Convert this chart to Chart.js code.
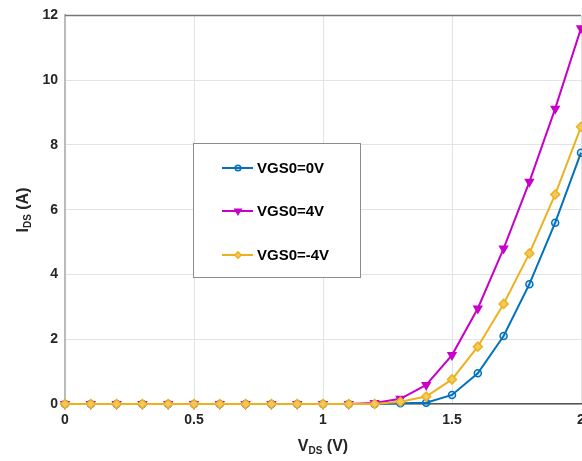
<!DOCTYPE html>
<html><head><meta charset="utf-8">
<script src="https://cdn.jsdelivr.net/npm/chart.js@4/dist/chart.umd.min.js"></script>
<style>html,body{margin:0;padding:0;overflow:hidden;background:#fff;width:582px;height:461px}#wrap{width:600px;height:461px}</style>
</head><body><div id="wrap"><canvas id="c" width="600" height="461"></canvas></div>
<script>
const vds = [0,0.1,0.2,0.3,0.4,0.5,0.6,0.7,0.8,0.9,1.0,1.1,1.2,1.3,1.4,1.5,1.6,1.7,1.8,1.9,2.0];
const ids_vgs0 = [0,0,0,0,0,0,0,0,0,0,0,0,0,0.02,0.04,0.28,0.95,2.1,3.7,5.6,7.76];
const ids_vgs4 = [0,0,0,0,0,0,0,0,0,0,0,0,0.03,0.16,0.59,1.51,2.95,4.8,6.86,9.12,11.6];
const ids_vgsm4 = [0,0,0,0,0,0,0,0,0,0,0,0,0,0.07,0.23,0.76,1.77,3.09,4.65,6.47,8.56];
const seriesNames = ['VGS0=0V','VGS0=4V','VGS0=-4V'];
const xTicks = [0,0.5,1,1.5,2];
const yTicks = [0,2,4,6,8,10,12];

const toPts = ys => vds.map((x,i)=>({x:x,y:ys[i]}));
const C_BLUE='#0072BD', C_MAG='#C800C8', C_ORG='#EDB120';

const boxPlugin = {
  id:'boxPlugin',
  beforeDatasetsDraw(chart){
    const {ctx, chartArea:a} = chart;
    ctx.save();
    ctx.lineWidth=1.5;
    ctx.strokeStyle='#777';
    ctx.beginPath();ctx.moveTo(a.left,a.top);ctx.lineTo(a.right,a.top);ctx.stroke();
    ctx.restore();
  },
  afterDraw(chart){
    const {ctx} = chart;
    ctx.save();
    ctx.fillStyle='#262626';
    ctx.textBaseline='alphabetic';
    const big='bold 16px "Liberation Sans", Arial, sans-serif';
    const small='bold 10px "Liberation Sans", Arial, sans-serif';
    function drawSub(main, sub, rest, cx, cy){
      ctx.font=big; const w1=ctx.measureText(main).width; const w3=ctx.measureText(rest).width;
      ctx.font=small; const w2=ctx.measureText(sub).width;
      let x=cx-(w1+w2+w3)/2;
      ctx.font=big; ctx.fillText(main,x,cy); x+=w1;
      ctx.font=small; ctx.fillText(sub,x,cy+3); x+=w2;
      ctx.font=big; ctx.fillText(rest,x,cy);
    }
    drawSub('V','DS',' (V)',323,451);
    ctx.save();
    ctx.translate(28,210);
    ctx.rotate(-Math.PI/2);
    drawSub('I','DS',' (A)',0,0);
    ctx.restore();

    // legend
    const lx=193, ly=143, lw=167, lh=134;
    ctx.fillStyle='#fff';
    ctx.fillRect(lx,ly,lw,lh);
    ctx.strokeStyle='#8c8c8c'; ctx.lineWidth=1;
    ctx.strokeRect(lx+0.5,ly+0.5,lw,lh);
    const ys=[168,211,255];
    const sizes=[2.8,3.5,3.2];
    chart.data.datasets.forEach((ds,i)=>{
      const y=ys[i];
      ctx.strokeStyle=ds.borderColor; ctx.lineWidth=2;
      ctx.beginPath();ctx.moveTo(222,y);ctx.lineTo(253,y);ctx.stroke();
      ctx.fillStyle=ds.pointBackgroundColor;
      ctx.strokeStyle=ds.borderColor;
      ctx.lineWidth=1.5;
      Chart.helpers.drawPoint(ctx,{pointStyle:ds.pointStyle,rotation:ds.pointRotation||0,radius:sizes[i],borderWidth:1.5},238,y);
      ctx.fillStyle='#000';
      ctx.font='bold 15px "Liberation Sans", Arial, sans-serif';
      ctx.textBaseline='middle';
      ctx.fillText(seriesNames[i],257,y+1);
    });
    ctx.restore();
  }
};

const mk = (label,data,color,style,rot,bg,r,order)=>({
  label, data:toPts(data), borderColor:color, backgroundColor:bg,
  pointBackgroundColor:bg, pointBorderColor:color, pointStyle:style, pointRotation:rot,
  pointRadius:r, pointBorderWidth:1.5, borderWidth:2, tension:0, clip:false, order
});

new Chart(document.getElementById('c'),{
  type:'line',
  data:{datasets:[
    mk(seriesNames[0],ids_vgs0,C_BLUE,'circle',0,'rgba(0,114,189,0.15)',3.5,2),
    mk(seriesNames[1],ids_vgs4,C_MAG,'triangle',180,C_MAG,4.5,1),
    mk(seriesNames[2],ids_vgsm4,C_ORG,'rectRot',0,'#F3C95A',4.5,0)
  ]},
  options:{
    responsive:false, animation:false,
    layout:{padding:{left:0,right:19,top:15,bottom:0}},
    plugins:{legend:{display:false},tooltip:{enabled:false}},
    scales:{
      x:{type:'linear',min:0,max:2,
        afterBuildTicks(s){s.ticks=xTicks.map(v=>({value:v}));},
        afterFit(s){s.height=57;},
        grid:{color:'#e3e3e3',drawTicks:false,lineWidth:1},
        border:{color:'#555',width:1.5},
        ticks:{padding:8,color:'#262626',font:{family:'"Liberation Sans", Arial, sans-serif',size:14,weight:'bold'},maxRotation:0,
          callback:v=>String(v)}
      },
      y:{type:'linear',min:0,max:12,
        afterBuildTicks(s){s.ticks=yTicks.map(v=>({value:v}));},
        afterFit(s){s.width=65;},
        grid:{color:'#e3e3e3',drawTicks:false,lineWidth:1},
        border:{color:'#bbb',width:2},
        ticks:{padding:7,color:'#262626',font:{family:'"Liberation Sans", Arial, sans-serif',size:14,weight:'bold'},
          callback:v=>String(v)}
      }
    }
  },
  plugins:[boxPlugin]
});
</script></body></html>
